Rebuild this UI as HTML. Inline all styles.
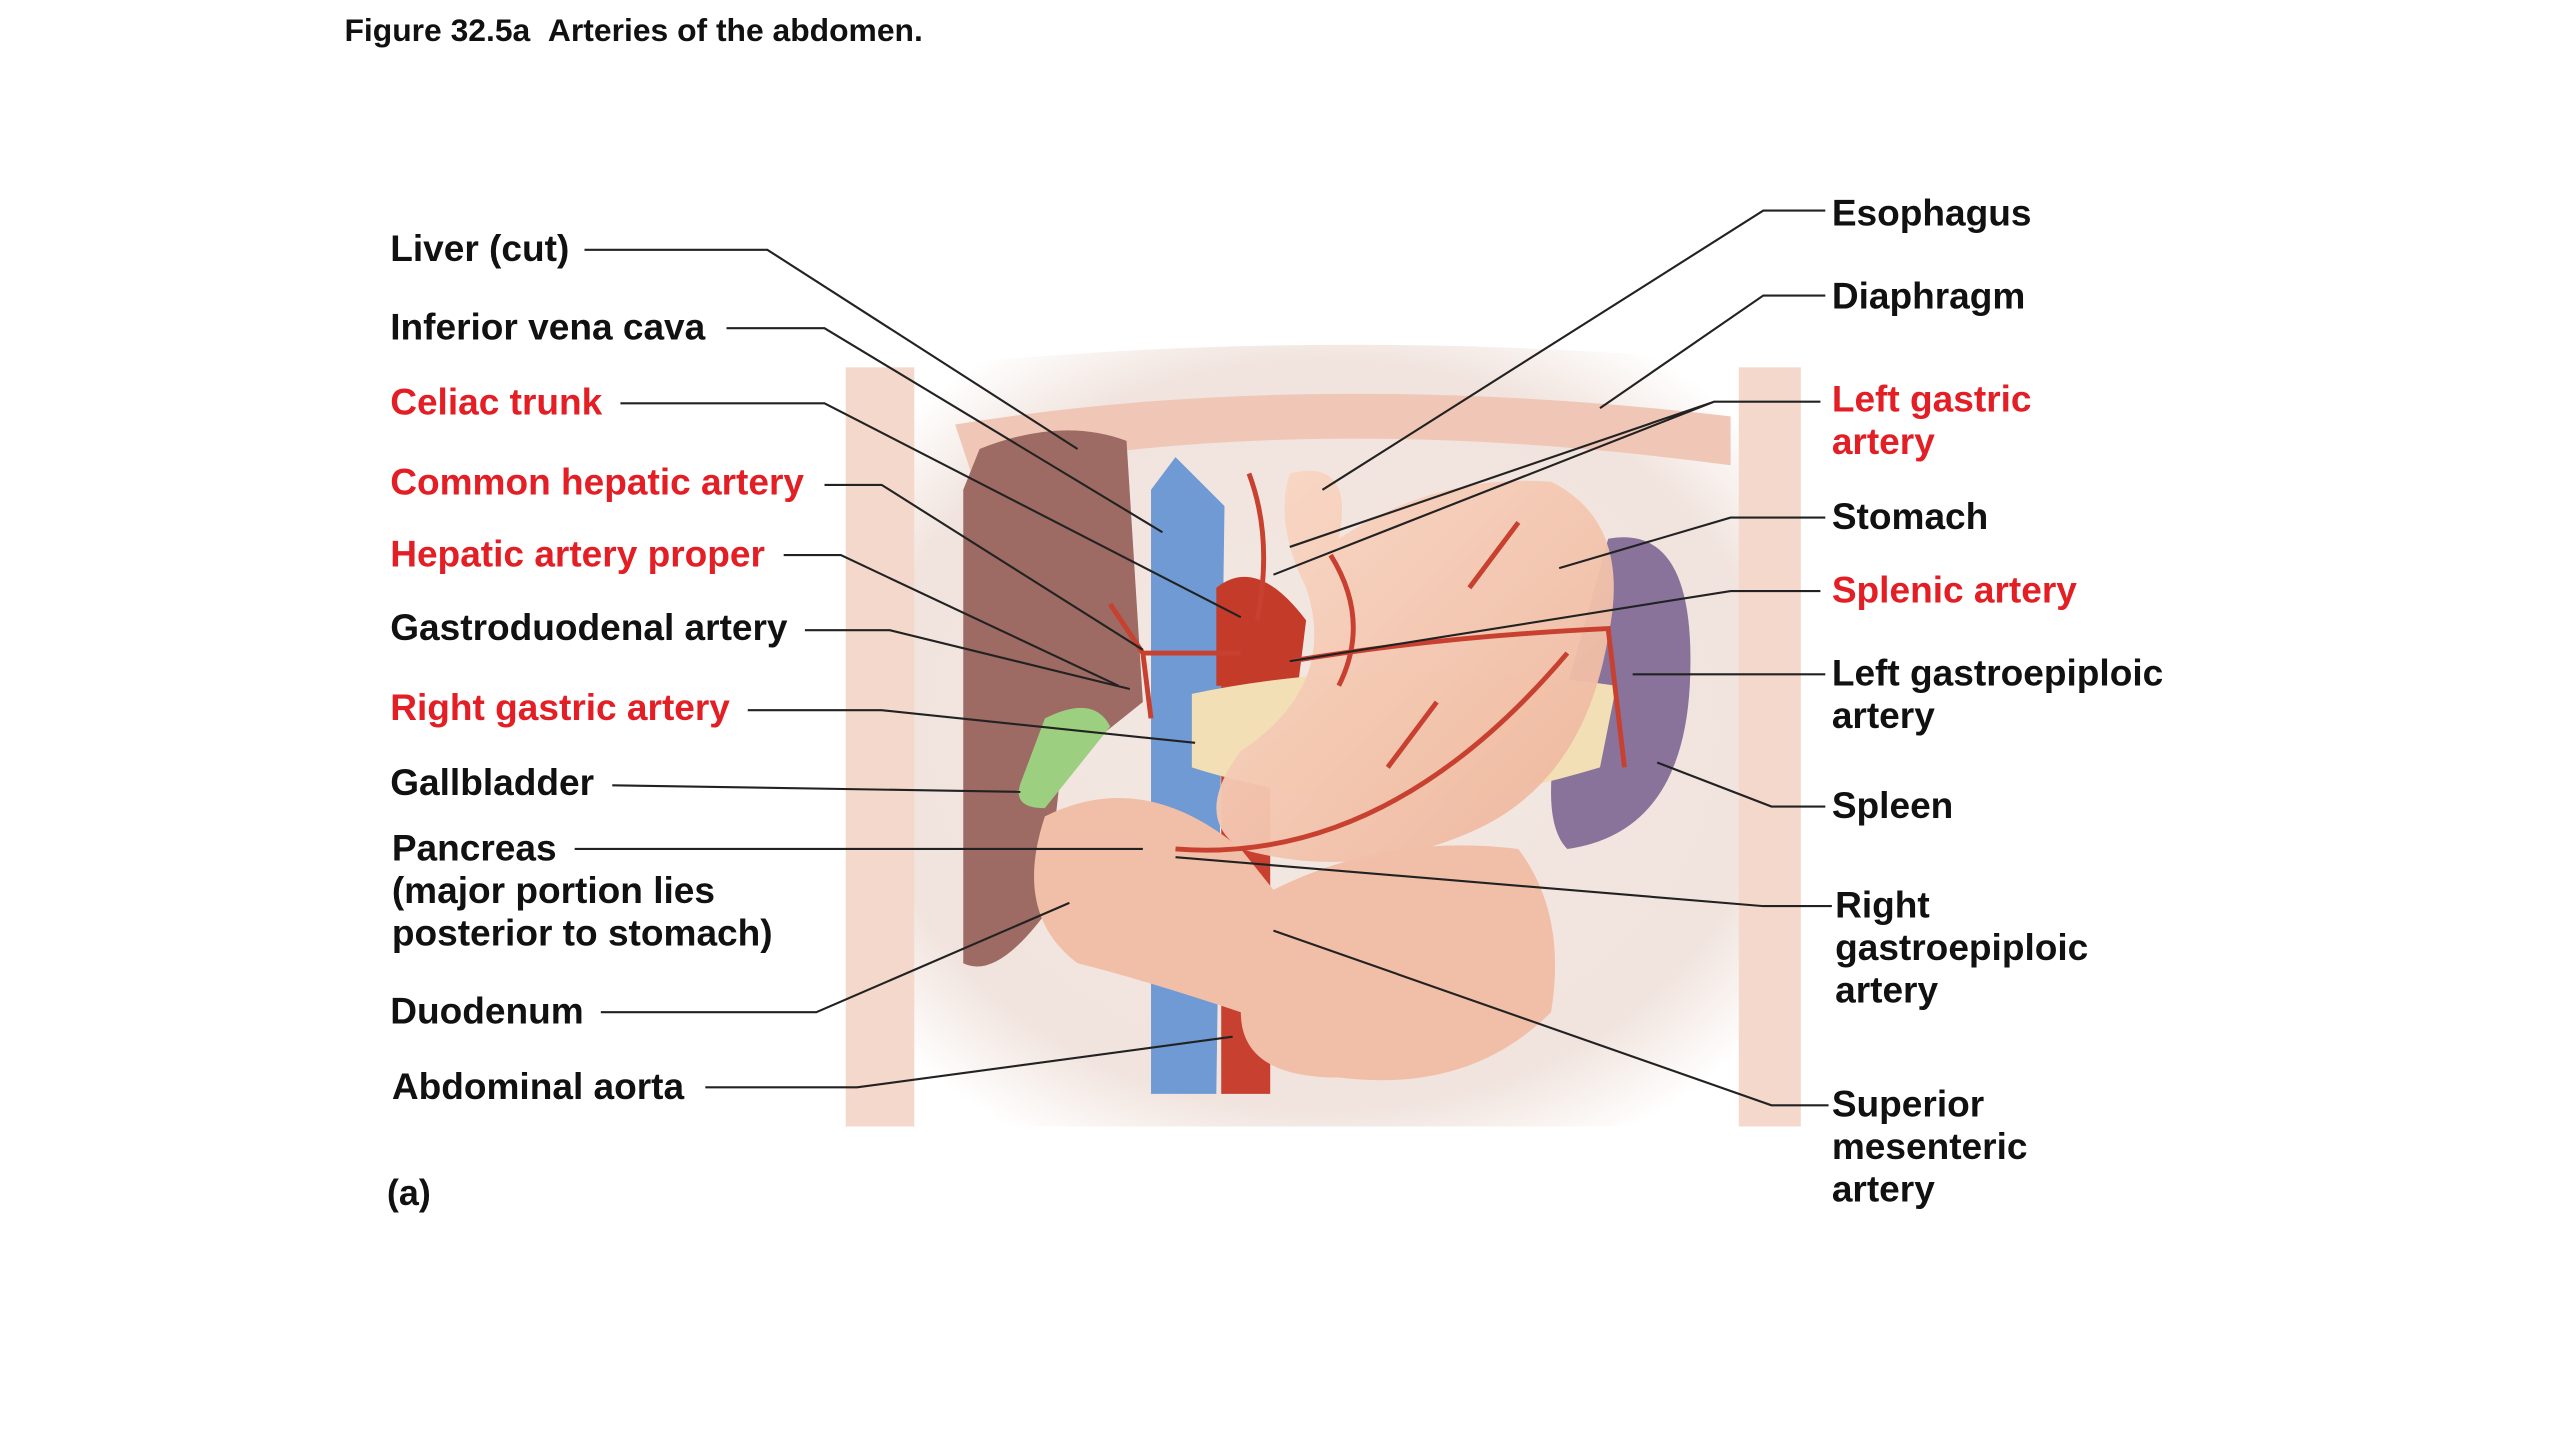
<!DOCTYPE html>
<html><head><meta charset="utf-8"><style>
html,body{margin:0;padding:0;background:#fff;width:2560px;height:1440px;overflow:hidden}
svg{display:block}
text{font-family:"Liberation Sans",Arial,sans-serif;font-weight:bold;font-size:22.7px;fill:#111}
.r{fill:#e31e24}
</style></head><body>
<svg width="2560" height="1440" viewBox="0 0 1568 882" xmlns="http://www.w3.org/2000/svg">
<defs>
<radialGradient id="bg" cx="50%" cy="50%" r="60%"><stop offset="0" stop-color="#f3e7e2"/><stop offset="0.8" stop-color="#f1e4de"/><stop offset="1" stop-color="#fff"/></radialGradient>
<linearGradient id="st" x1="0" y1="0" x2="1" y2="1"><stop offset="0" stop-color="#f9d9c7"/><stop offset="1" stop-color="#eeb49a"/></linearGradient>
</defs>
<text x="211" y="25" style="font-size:19.5px">Figure 32.5a &#160;Arteries of the abdomen.</text>
<path d="M520 230 Q800 195 1100 225 L1100 690 L520 690 Z" fill="url(#bg)"/>
<rect x="518" y="225" width="42" height="465" fill="#f4d8cc"/>
<rect x="1065" y="225" width="38" height="465" fill="#f4d8cc"/>
<path d="M585 260 Q800 225 1060 255 L1060 285 Q800 250 595 290 Z" fill="#f0c7b6"/>
<path d="M600 275 Q650 255 690 270 L700 430 L650 470 L640 560 Q610 600 590 590 L590 300 Z" fill="#9e6a64"/>
<path d="M705 300 L720 280 L740 300 L750 310 L745 670 L705 670 Z" fill="#6f9ad3"/>
<rect x="748" y="360" width="30" height="310" fill="#c8402f"/>
<path d="M745 360 Q770 340 800 380 L795 420 L745 420 Z" fill="#c43b2a"/>
<path d="M985 330 Q1040 320 1035 420 Q1030 510 960 520 Q940 500 960 420 Z" fill="#8a739a"/>
<path d="M640 500 Q700 470 760 520 L780 545 Q850 510 930 520 Q960 560 950 620 Q900 670 820 660 Q760 660 760 620 Q700 600 660 590 Q620 560 640 500 Z" fill="#f1bfa8"/>
<path d="M730 425 Q850 400 990 420 L980 470 Q880 500 820 490 Q760 480 730 470 Z" fill="#f3dfb6"/>
<path d="M790 290 Q830 280 820 330 Q880 290 950 295 Q1000 320 985 390 Q970 480 900 510 Q830 540 760 520 Q730 500 760 460 Q820 420 800 360 Q780 320 790 290 Z" fill="url(#st)" opacity="0.95"/>
<path d="M640 440 Q670 425 680 445 L640 495 Q620 495 625 480 Z" fill="#9ccf80"/>
<g stroke="#c8402f" fill="none" stroke-width="3">
<path d="M760 400 L700 400 L680 370"/><path d="M700 400 L705 440"/><path d="M770 380 Q780 330 765 290"/>
<path d="M790 405 Q880 390 985 385 L995 470"/><path d="M720 520 Q850 530 960 400"/>
<path d="M815 340 Q840 380 820 420"/><path d="M900 360 L930 320"/><path d="M850 470 L880 430"/>
</g>
<g stroke="#222" stroke-width="1.3" fill="none">
<path d="M358 153 H470 L660 275"/>
<path d="M445 201 H505 L712 326"/>
<path d="M380 247 H505 L760 378"/>
<path d="M505 297 H540 L700 398"/>
<path d="M480 340 H515 L685 420"/>
<path d="M493 386 H545 L692 422"/>
<path d="M458 435 H540 L732 455"/>
<path d="M375 481 L625 485"/>
<path d="M352 520 H700"/>
<path d="M368 620 H500 L655 553"/>
<path d="M432 666 H525 L755 635"/>
<path d="M1118 129 H1080 L810 300"/>
<path d="M1118 181 H1080 L980 250"/>
<path d="M1115 246 H1050 L790 335 M1050 246 L780 352"/>
<path d="M1118 317 H1060 L955 348"/>
<path d="M1115 362 H1060 L790 405"/>
<path d="M1118 413 H1000"/>
<path d="M1118 494 H1085 L1015 467"/>
<path d="M1122 555 H1080 L720 525"/>
<path d="M1120 677 H1085 L780 570"/>
</g>
<text x="239" y="160">Liver (cut)</text>
<text x="239" y="208">Inferior vena cava</text>
<text x="239" y="254" class="r">Celiac trunk</text>
<text x="239" y="303" class="r">Common hepatic artery</text>
<text x="239" y="347" class="r">Hepatic artery proper</text>
<text x="239" y="392">Gastroduodenal artery</text>
<text x="239" y="441" class="r">Right gastric artery</text>
<text x="239" y="487">Gallbladder</text>
<text x="240" y="527">Pancreas</text>
<text x="240" y="553">(major portion lies</text>
<text x="240" y="579">posterior to stomach)</text>
<text x="239" y="627">Duodenum</text>
<text x="240" y="673">Abdominal aorta</text>
<text x="237" y="738" style="font-size:22px">(a)</text>
<text x="1122" y="138">Esophagus</text>
<text x="1122" y="189">Diaphragm</text>
<text x="1122" y="252" class="r">Left gastric</text>
<text x="1122" y="278" class="r">artery</text>
<text x="1122" y="324">Stomach</text>
<text x="1122" y="369" class="r">Splenic artery</text>
<text x="1122" y="420">Left gastroepiploic</text>
<text x="1122" y="446">artery</text>
<text x="1122" y="501">Spleen</text>
<text x="1124" y="562">Right</text>
<text x="1124" y="588">gastroepiploic</text>
<text x="1124" y="614">artery</text>
<text x="1122" y="684">Superior</text>
<text x="1122" y="710">mesenteric</text>
<text x="1122" y="736">artery</text>
</svg>
</body></html>
